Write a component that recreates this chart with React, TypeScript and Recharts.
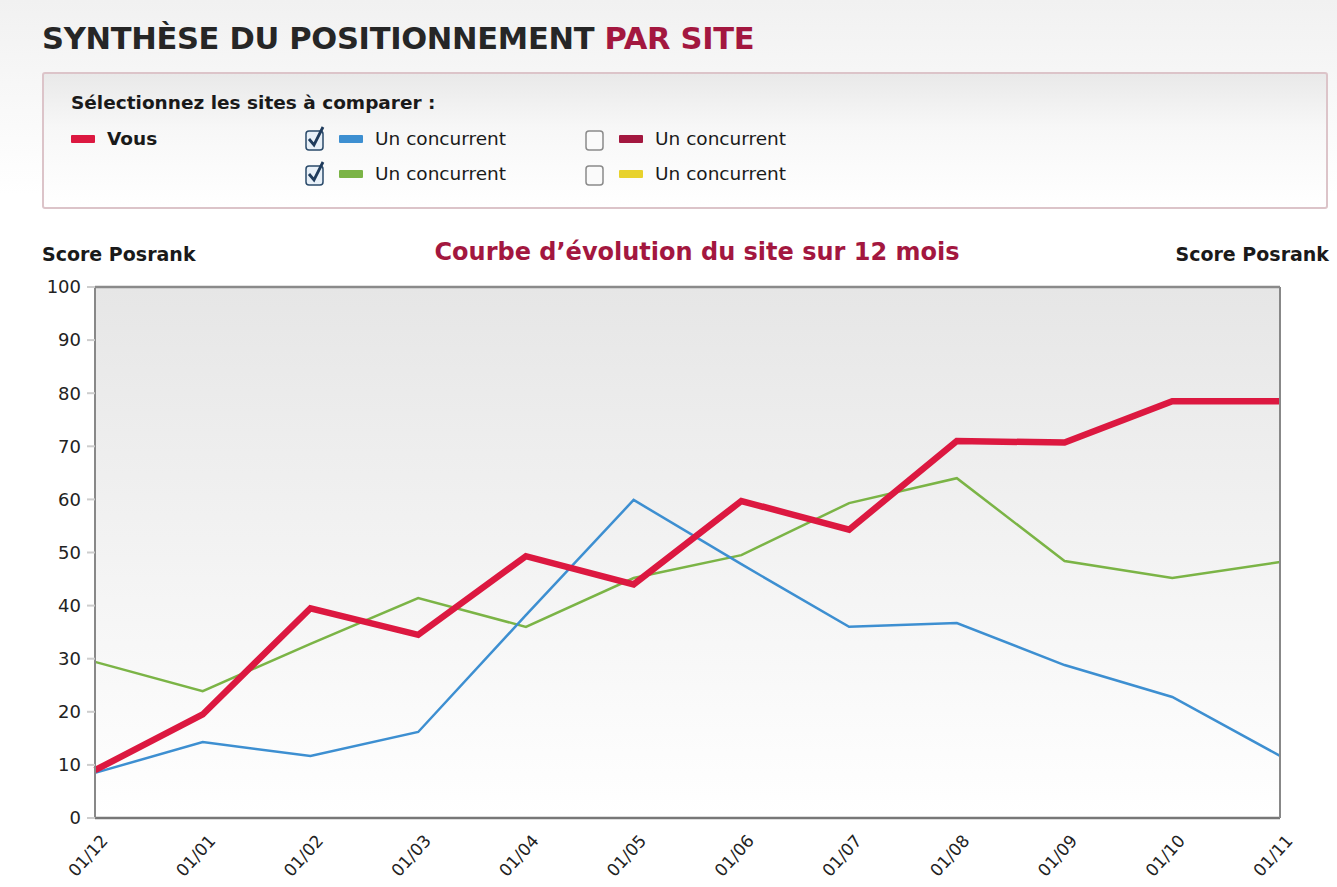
import React from 'react'
import {
  LineChart, Line, XAxis, YAxis, CartesianGrid, ReferenceLine
} from 'recharts'

// months shown on the x axis
const months = ['01/12', '01/01', '01/02', '01/03', '01/04', '01/05', '01/06', '01/07', '01/08', '01/09', '01/10', '01/11']
const vous = [9, 19.5, 39.5, 34.5, 49.3, 44, 59.7, 54.3, 71, 70.7, 78.5, 78.5]
const concurrentBleu = [8.5, 14.3, 11.7, 16.2, 38.2, 59.9, 47.8, 36, 36.7, 28.8, 22.8, 11.7]
const concurrentVert = [29.4, 23.9, 32.8, 41.4, 36, 45.2, 49.5, 59.3, 64, 48.4, 45.2, 48.2]
const yTicks = [0, 10, 20, 30, 40, 50, 60, 70, 80, 90, 100]

const data = months.map((m, i) => ({
  month: m, vous: vous[i], bleu: concurrentBleu[i], vert: concurrentVert[i]
}))

const FONT = '"DejaVu Sans", Verdana, sans-serif'
const RED = '#dc1840'
const BLUE = '#3d8fd1'
const GREEN = '#7bb446'
const CRIMSON = '#a3173f'
const YELLOW = '#e8d22c'

function Swatch({ color }: { color: string }) {
  return <span style={{ display: 'inline-block', width: 24, height: 8, background: color, borderRadius: 1, marginRight: 12, verticalAlign: 'middle' }} />
}

function Checkbox({ checked }: { checked: boolean }) {
  return (
    <svg width={24} height={26} style={{ verticalAlign: 'middle', marginRight: 11 }}>
      <rect x={2} y={5} width={17} height={19} rx={3} fill={checked ? '#e8f0f8' : '#fafafa'} stroke={checked ? '#2a4a6a' : '#8a8a8a'} strokeWidth={1.5} />
      {checked && <path d="M5 13 L10 19 L19 1" fill="none" stroke="#1f3b5c" strokeWidth={2.8} />}
    </svg>
  )
}

function Item({ checked, color, label, bold }: { checked?: boolean; color: string; label: string; bold?: boolean }) {
  return (
    <div style={{ display: 'flex', alignItems: 'center', height: 35, fontSize: 18.5, fontWeight: bold ? 700 : 400, color: '#1a1a1a' }}>
      {checked !== undefined && <Checkbox checked={checked} />}
      <Swatch color={color} />
      <span>{label}</span>
    </div>
  )
}

const XTick = (props: any) => {
  const { x, y, payload } = props
  return (
    <g transform={`translate(${x + 10},${y + 12})`}>
      <text transform="rotate(-48)" textAnchor="end" dy={5} fontSize={17} fill="#222" fontFamily={FONT}>{payload.value}</text>
    </g>
  )
}

export default function App() {
  return (
    <div style={{ position: 'absolute', left: 0, top: 0, width: 1337, height: 887, overflow: 'hidden', fontFamily: FONT, background: 'linear-gradient(180deg, #f1f1f1 0%, #ffffff 22%, #ffffff 100%)' }}>
      <div style={{ position: 'absolute', left: 42, top: 21, fontSize: 30.5, fontWeight: 700, color: '#262626', letterSpacing: -0.3 }}>
        SYNTHÈSE DU POSITIONNEMENT <span style={{ color: CRIMSON }}>PAR SITE</span>
      </div>

      <div style={{ position: 'absolute', left: 42, top: 72, width: 1286, height: 137, border: '2px solid #dcc4c9', borderRadius: 3, background: 'linear-gradient(180deg, #e9e9e9 0%, #f7f7f7 40%, #ffffff 100%)', boxSizing: 'border-box' }}>
        <div style={{ position: 'absolute', left: 27, top: 18, fontSize: 18.5, fontWeight: 700, color: '#1a1a1a' }}>Sélectionnez les sites à comparer :</div>
        <div style={{ position: 'absolute', left: 27, top: 47 }}>
          <Item color={RED} label="Vous" bold />
        </div>
        <div style={{ position: 'absolute', left: 260, top: 47 }}>
          <Item checked color={BLUE} label="Un concurrent" />
          <Item checked color={GREEN} label="Un concurrent" />
        </div>
        <div style={{ position: 'absolute', left: 540, top: 47 }}>
          <Item checked={false} color={CRIMSON} label="Un concurrent" />
          <Item checked={false} color={YELLOW} label="Un concurrent" />
        </div>
      </div>

      <div style={{ position: 'absolute', left: 42, top: 243, fontSize: 19, fontWeight: 700, color: '#1a1a1a' }}>Score Posrank</div>
      <div style={{ position: 'absolute', right: 8, top: 243, fontSize: 19, fontWeight: 700, color: '#1a1a1a' }}>Score Posrank</div>
      <div style={{ position: 'absolute', left: 0, width: 1394, textAlign: 'center', top: 238, fontSize: 24, fontWeight: 700, color: CRIMSON }}>Courbe d’évolution du site sur 12 mois</div>

      <div style={{ position: 'absolute', left: 0, top: 270 }}>
        <LineChart width={1337} height={617} data={data} margin={{ top: 17, right: 7, left: 35, bottom: 9 }}>
          <defs>
            <linearGradient id="plotBg" x1="0" y1="0" x2="0" y2="1">
              <stop offset="0%" stopColor="#e6e6e6" />
              <stop offset="55%" stopColor="#f4f4f4" />
              <stop offset="100%" stopColor="#ffffff" />
            </linearGradient>
          </defs>
          <CartesianGrid vertical={false} fill="url(#plotBg)" stroke="#cdcdcd" strokeWidth={2} />
          <XAxis dataKey="month" height={60} tick={<XTick />} interval={0} axisLine={{ stroke: '#777', strokeWidth: 2.5 }} tickLine={false} padding={{ left: 0, right: 0 }} />
          <YAxis yAxisId="left" orientation="left" domain={[0, 100]} ticks={yTicks} width={60} axisLine={{ stroke: '#888', strokeWidth: 2 }} tickLine={{ stroke: '#cdcdcd', strokeWidth: 2 }} tickSize={8} tickMargin={6} tick={{ fontSize: 18, fill: '#222', fontFamily: FONT }} />
          <YAxis yAxisId="right" orientation="right" domain={[0, 100]} ticks={yTicks} width={50} axisLine={{ stroke: '#888', strokeWidth: 2 }} tickLine={false} tickMargin={12} tick={{ fontSize: 18, fill: '#222', fontFamily: FONT, textAnchor: 'start' }} />
          <ReferenceLine yAxisId="left" y={100} stroke="#8a8a8a" strokeWidth={2.5} />
          <Line yAxisId="left" dataKey="vert" stroke={GREEN} strokeWidth={2.5} dot={false} isAnimationActive={false} />
          <Line yAxisId="left" dataKey="bleu" stroke={BLUE} strokeWidth={2.5} dot={false} isAnimationActive={false} />
          <Line yAxisId="left" dataKey="vous" stroke={RED} strokeWidth={6.5} dot={false} strokeLinejoin="miter" isAnimationActive={false} />
        </LineChart>
      </div>
    </div>
  )
}
